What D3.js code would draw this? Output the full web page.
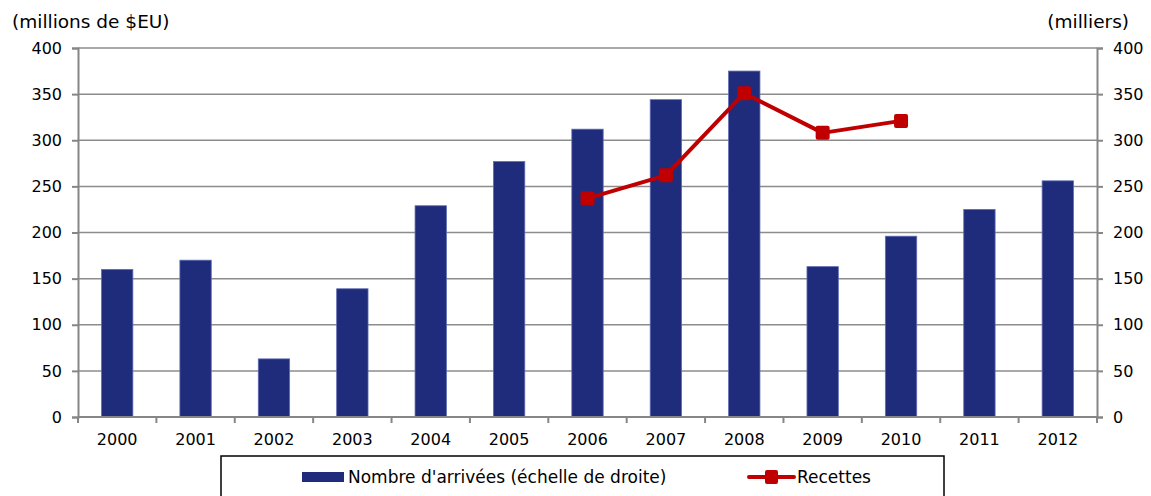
<!DOCTYPE html>
<html>
<head>
<meta charset="utf-8">
<script src="https://cdn.jsdelivr.net/npm/d3@7/dist/d3.min.js"></script>
<style>
  html, body { margin: 0; padding: 0; background: #fff; }
  svg { display: block; font-family: "DejaVu Sans", Verdana, sans-serif; }
</style>
</head>
<body>
<svg id="chart" width="1151" height="496"></svg>
<script>
// Years on the category axis
const years = ["2000","2001","2002","2003","2004","2005","2006","2007","2008","2009","2010","2011","2012"];
// Arrivals, thousands (right axis)
const arrivals = [160, 170, 63, 139, 229, 277, 312, 344, 375, 163, 196, 225, 256];
// Receipts, millions of US$ (left axis); null where not available
const receipts = [null, null, null, null, null, null, 237, 262, 351, 308, 321, null, null];
// Shared tick values for both value axes
const ticks = [0, 50, 100, 150, 200, 250, 300, 350, 400];

const svg = d3.select("#chart");
const plotL = 78, plotR = 1097, plotT = 48, plotB = 417;

const x = d3.scaleBand().domain(years).range([plotL, plotR]).paddingInner(0.6).paddingOuter(0.3);
const xOuter = d3.scaleBand().domain(years).range([plotL, plotR]);
const yL = d3.scaleLinear().domain([0, 400]).range([plotB, plotT]);
const yR = d3.scaleLinear().domain([0, 400]).range([plotB, plotT]);

const gray = "#868686";

// Horizontal gridlines
svg.append("g").selectAll("line").data(ticks.filter(t => t > 0)).join("line")
  .attr("x1", plotL).attr("x2", plotR)
  .attr("y1", d => yL(d)).attr("y2", d => yL(d))
  .attr("stroke", "#8c8c8c").attr("stroke-width", 1.5);

// Bars: arrivals
svg.append("g").selectAll("rect").data(years).join("rect")
  .attr("x", d => x(d))
  .attr("width", x.bandwidth())
  .attr("y", (d, i) => yR(arrivals[i]))
  .attr("height", (d, i) => plotB - yR(arrivals[i]))
  .attr("fill", "#1f2b7b")
  .attr("stroke", "#5f6db3").attr("stroke-width", 0.8);

// Left axis
const axL = svg.append("g").attr("transform", `translate(${plotL},0)`)
  .call(d3.axisLeft(yL).tickValues(ticks).tickSize(6).tickPadding(10));
// Right axis
const axR = svg.append("g").attr("transform", `translate(${plotR},0)`)
  .call(d3.axisRight(yR).tickValues(ticks).tickSize(6).tickPadding(10));
// Bottom axis with ticks on category boundaries
const axB = svg.append("g").attr("transform", `translate(0,${plotB})`)
  .call(d3.axisBottom(xOuter).tickSize(0).tickPadding(17));
svg.append("g").selectAll("line").data(d3.range(years.length + 1)).join("line")
  .attr("x1", i => plotL + i * xOuter.step()).attr("x2", i => plotL + i * xOuter.step())
  .attr("y1", plotB).attr("y2", plotB + 6)
  .attr("stroke", gray).attr("stroke-width", 2);

[axL, axR, axB].forEach(g => {
  g.select(".domain").attr("stroke", gray).attr("stroke-width", 2);
  g.selectAll(".tick line").attr("stroke", gray).attr("stroke-width", 2);
  g.selectAll(".tick text").attr("fill", "#000").attr("font-size", 16)
    .attr("font-family", "DejaVu Sans, Verdana, sans-serif");
});
axB.select(".domain").attr("d", `M${plotL},0H${plotR}`);

// Receipts line
const pts = years.map((d, i) => ({ year: d, v: receipts[i] })).filter(p => p.v !== null);
const line = d3.line().x(p => xOuter(p.year) + xOuter.bandwidth() / 2).y(p => yL(p.v));
svg.append("path").datum(pts).attr("d", line)
  .attr("fill", "none").attr("stroke", "#c00000").attr("stroke-width", 4)
  .attr("stroke-linejoin", "round");
svg.append("g").selectAll("rect").data(pts).join("rect")
  .attr("x", p => xOuter(p.year) + xOuter.bandwidth() / 2 - 7)
  .attr("y", p => yL(p.v) - 7)
  .attr("width", 14).attr("height", 14).attr("rx", 2)
  .attr("fill", "#c00000");

// Axis unit titles
svg.append("text").attr("x", 12).attr("y", 28).attr("font-size", 18.5).text("(millions de $EU)");
svg.append("text").attr("x", 1129).attr("y", 28).attr("font-size", 18.5)
  .attr("text-anchor", "end").text("(milliers)");

// Legend
const lg = svg.append("g");
lg.append("rect").attr("x", 221).attr("y", 456).attr("width", 723).attr("height", 60)
  .attr("fill", "#fff").attr("stroke", "#000").attr("stroke-width", 1.5);
lg.append("rect").attr("x", 302).attr("y", 472).attr("width", 42).attr("height", 10).attr("fill", "#1f2b7b");
lg.append("text").attr("x", 348).attr("y", 483).attr("font-size", 17).text("Nombre d'arrivées (échelle de droite)");
lg.append("line").attr("x1", 749).attr("x2", 794).attr("y1", 477).attr("y2", 477)
  .attr("stroke", "#c00000").attr("stroke-width", 4).attr("stroke-linecap", "round");
lg.append("rect").attr("x", 765).attr("y", 470).attr("width", 13).attr("height", 14).attr("rx", 2).attr("fill", "#c00000");
lg.append("text").attr("x", 797).attr("y", 483).attr("font-size", 17).text("Recettes");
</script>
</body>
</html>
